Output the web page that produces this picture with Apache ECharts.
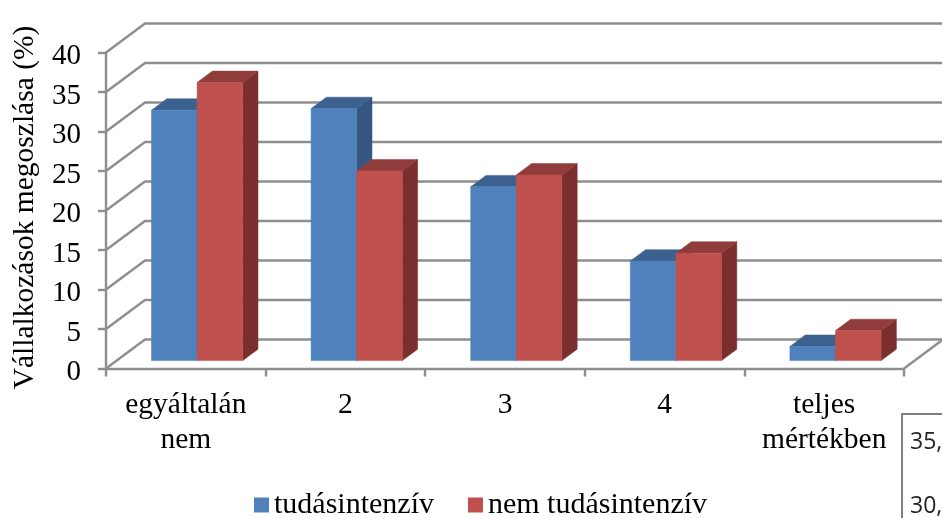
<!DOCTYPE html>
<html><head><meta charset="utf-8">
<style>html,body{margin:0;padding:0;background:#fff}#c{width:942px;height:518px}</style>
<script src="https://cdn.jsdelivr.net/npm/echarts@6/dist/echarts.min.js"></script>
</head><body><div id="c"></div>
<script>
const categories = ['egyáltalán\nnem', '2', '3', '4', 'teljes\nmértékben'];
const tudasintenziv = [31.7, 31.9, 22.0, 12.6, 1.8];
const nemTudasintenziv = [35.2, 24.0, 23.5, 13.6, 3.8];
const gridTicks = [0, 5, 10, 15, 20, 25, 30, 35, 40];
const seriesNames = ['tudásintenzív', 'nem tudásintenzív'];
const strayLabels = ['35,', '30,'];

const FONT = '"Liberation Serif","Times New Roman",serif';
const GREY = '#8e8e8e';
const WALL = [39, -29];        // depth of the chart box
const BAR_SHIFT = [11.3, -7.9]; // bar front face offset from the front plane
const BAR_DEPTH = [15.3, -11.4];
const BAR_W = 0.2857;           // bar width as fraction of a category

function wallItem(params, api) {
  const size = api.size([1, 0])[0];
  const p = api.coord([0, api.value(1)]);
  const x0 = p[0] - size / 2, y = p[1], x1 = x0 + 5 * size;
  const children = [{
    type: 'polyline',
    shape: { points: [[x0, y], [x0 + WALL[0], y + WALL[1]], [x1 + WALL[0], y + WALL[1]]] },
    style: { stroke: GREY, lineWidth: 2.4, fill: 'none' }
  }];
  if (api.value(1) === 0) {
    children.push({
      type: 'line',
      shape: { x1: x1, y1: y, x2: x1 + WALL[0], y2: y + WALL[1] },
      style: { stroke: GREY, lineWidth: 2.4 }
    });
  }
  return { type: 'group', children };
}

function barItem(offsetIndex, front, top, side) {
  return function (params, api) {
    const idx = api.value(0);
    const size = api.size([1, 0])[0];
    const w = size * BAR_W;
    const t = api.coord([idx, api.value(1)]);
    const b = api.coord([idx, 0]);
    const left = t[0] + BAR_SHIFT[0] + (offsetIndex - 1) * w;
    const right = left + w;
    const yt = t[1] + BAR_SHIFT[1];
    const yb = b[1] + BAR_SHIFT[1];
    const dx = BAR_DEPTH[0], dy = BAR_DEPTH[1];
    const poly = (pts, c) => ({ type: 'polygon', shape: { points: pts }, style: { fill: c, stroke: c, lineWidth: 0.5 } });
    return {
      type: 'group',
      children: [
        poly([[right, yt], [right + dx, yt + dy], [right + dx, yb + dy], [right, yb]], side),
        poly([[left, yt], [left + dx, yt + dy], [right + dx, yt + dy], [right, yt]], top),
        poly([[left, yt], [right, yt], [right, yb], [left, yb]], front)
      ]
    };
  };
}

const chart = echarts.init(document.getElementById('c'), null, { renderer: 'canvas' });
chart.setOption({
  animation: false,
  backgroundColor: '#fff',
  textStyle: { fontFamily: FONT, color: '#000' },
  grid: { left: 106, top: 52.5, width: 798, height: 316, containLabel: false, outerBoundsMode: 'none' },
  legend: {
    data: seriesNames, left: 249, top: 485, icon: 'rect', itemWidth: 15, itemHeight: 15, itemGap: 34,
    textStyle: { fontFamily: FONT, fontSize: 30, color: '#000' }
  },
  xAxis: {
    type: 'category', data: categories,
    axisLine: { show: true, lineStyle: { color: GREY, width: 2.4 } },
    axisTick: { show: true, length: 8, lineStyle: { color: GREY, width: 2.4 } },
    axisLabel: { fontFamily: FONT, fontSize: 29.5, color: '#000', lineHeight: 35, margin: 19, interval: 0 }
  },
  yAxis: {
    type: 'value', min: 0, max: 40, interval: 5,
    name: 'Vállalkozások megoszlása (%)', nameLocation: 'middle', nameGap: 66,
    nameTextStyle: { fontFamily: FONT, fontSize: 29.5, color: '#000', padding: [0, 0, 0, 6] },
    axisLine: { show: true, onZero: false, lineStyle: { color: GREY, width: 2.4 } },
    axisTick: { show: true, length: 8, lineStyle: { color: GREY, width: 2.4 } },
    splitLine: { show: false },
    axisLabel: { fontFamily: FONT, fontSize: 29, color: '#000', margin: 25, verticalAlign: 'top', lineHeight: 8 }
  },
  series: [
    { type: 'custom', name: 'walls', clip: false, z: 1, silent: true, renderItem: wallItem,
      encode: { x: 0, y: 1 }, data: gridTicks.map(t => [0, t]) },
    { type: 'custom', name: seriesNames[0], clip: false, z: 2, itemStyle: { color: '#4F81BD' },
      renderItem: barItem(0, '#4F81BD', '#3C618E', '#345680'),
      encode: { x: 0, y: 1 }, data: tudasintenziv.map((v, i) => [i, v]) },
    { type: 'custom', name: seriesNames[1], clip: false, z: 3, itemStyle: { color: '#C0504D' },
      renderItem: barItem(1, '#C0504D', '#903C3A', '#7A2F2E'),
      encode: { x: 0, y: 1 }, data: nemTudasintenziv.map((v, i) => [i, v]) }
  ],
  graphic: [
    { type: 'rect', shape: { x: 902, y: 414, width: 100, height: 200 }, style: { fill: '#fff', stroke: '#7f7f7f', lineWidth: 2 } },
    { type: 'text', x: 910, y: 442, style: { text: strayLabels[0], font: '23px "Open Sans"', fill: '#222', textVerticalAlign: 'middle' } },
    { type: 'text', x: 910, y: 506, style: { text: strayLabels[1], font: '23px "Open Sans"', fill: '#222', textVerticalAlign: 'middle' } }
  ]
});
</script></body></html>
